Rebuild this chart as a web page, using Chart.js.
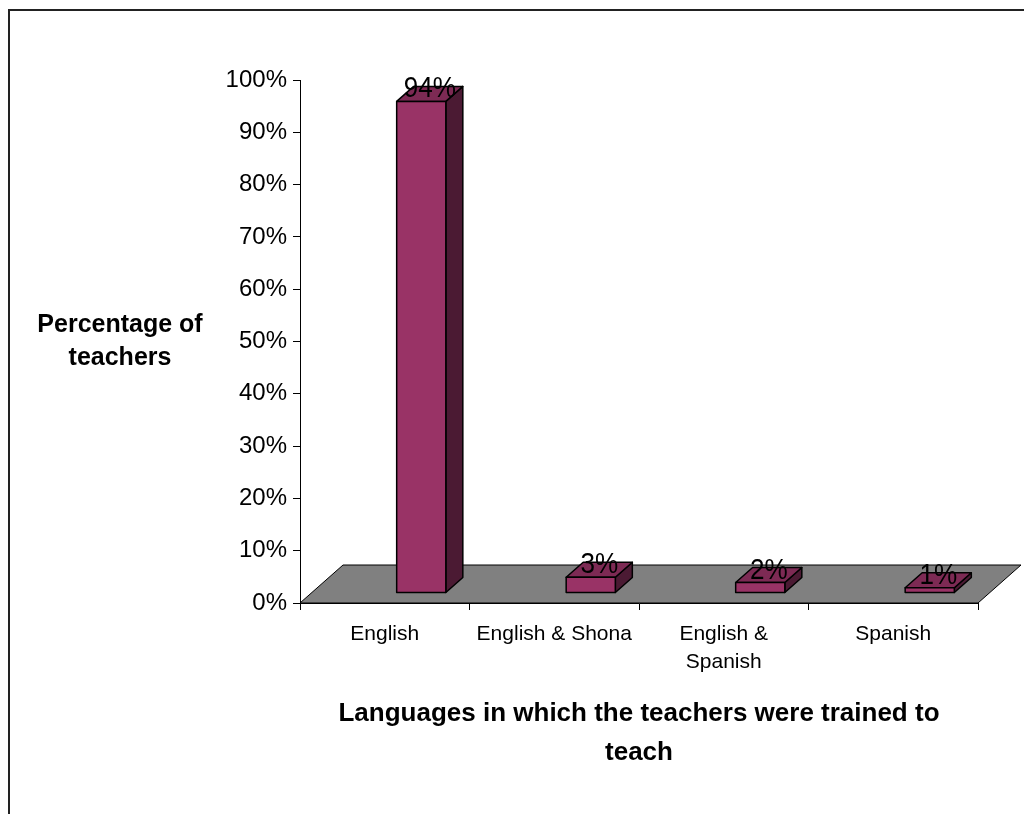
<!DOCTYPE html>
<html>
<head>
<meta charset="utf-8">
<title>Languages of teacher training</title>
<script src="https://cdn.jsdelivr.net/npm/chart.js@4.4.1/dist/chart.umd.min.js"></script>
<style>
  html, body { margin: 0; padding: 0; background: #fff; overflow: hidden; }
  #chartBox { width: 1024px; height: 814px; }
</style>
</head>
<body>
<div id="chartBox"><canvas id="langChart" width="1024" height="814"></canvas></div>
<script>
const categories = ["English", "English & Shona", ["English &", "Spanish"], "Spanish"];
const percentTeachers = [94, 3, 2, 1];
const yTickLabels = ["0%", "10%", "20%", "30%", "40%", "50%", "60%", "70%", "80%", "90%", "100%"];
const yTitle = ["Percentage of", "teachers"];
const xTitle = ["Languages in which the teachers were trained to", "teach"];

const FONT = '"Liberation Sans", Arial, sans-serif';

// fake 3D: floor depth, bar depth and where the bar front plane sits
const floorDepth = { x: 43, y: -38 };
const barDepth = { x: 17, y: -15 };
const frontShift = { x: 36.5, y: -10 };

const colors = {
    front: "#993366",
    top: "#7d2a54",
    side: "#4b1a33",
    floor: "#808080"
};

function poly(ctx, pts, fill) {
    ctx.beginPath();
    ctx.moveTo(pts[0][0], pts[0][1]);
    for (let i = 1; i < pts.length; i++) ctx.lineTo(pts[i][0], pts[i][1]);
    ctx.closePath();
    ctx.fillStyle = fill;
    ctx.fill();
    ctx.stroke();
}

const frame3d = {
    id: "frame3d",
    beforeDraw(chart) {
        const ctx = chart.ctx;
        ctx.save();
        ctx.strokeStyle = "#222";
        ctx.lineWidth = 2;
        ctx.strokeRect(9, 10, 1100, 900);
        ctx.restore();
    },
    beforeDatasetDraw() {
        return false; // bars are drawn by hand below
    },
    afterDatasetsDraw(chart) {
        const ctx = chart.ctx;
        const area = chart.chartArea;
        const y0 = chart.scales.y.getPixelForValue(0);
        ctx.save();
        ctx.strokeStyle = "#000";
        ctx.lineWidth = 1;
        ctx.lineJoin = "round";

        // grey floor
        poly(ctx, [
            [area.left, y0],
            [area.right, y0],
            [area.right + floorDepth.x, y0 + floorDepth.y],
            [area.left + floorDepth.x, y0 + floorDepth.y]
        ], colors.floor);

        const meta = chart.getDatasetMeta(0);
        ctx.lineWidth = 1.5;
        meta.data.forEach((bar, i) => {
            const p = bar.getProps(["x", "y", "base", "width"], true);
            const cx = p.x + frontShift.x;
            const l = cx - p.width / 2;
            const r = cx + p.width / 2;
            const t = p.y + frontShift.y;
            const b = p.base + frontShift.y;
            const dx = barDepth.x, dy = barDepth.y;

            poly(ctx, [[r, t], [r + dx, t + dy], [r + dx, b + dy], [r, b]], colors.side);
            poly(ctx, [[l, t], [r, t], [r + dx, t + dy], [l + dx, t + dy]], colors.top);
            poly(ctx, [[l, t], [r, t], [r, b], [l, b]], colors.front);

            // value label, slightly condensed
            ctx.save();
            ctx.translate(cx + dx / 2, t - 4);
            ctx.scale(0.87, 1);
            ctx.fillStyle = "#000";
            ctx.font = "30px " + FONT;
            ctx.textAlign = "center";
            ctx.textBaseline = "alphabetic";
            ctx.fillText(percentTeachers[i] + "%", 0, 0);
            ctx.restore();
        });
        ctx.restore();
    },
    afterDraw(chart) {
        // horizontal title left of the value axis
        const ctx = chart.ctx;
        ctx.save();
        ctx.fillStyle = "#000";
        ctx.font = "bold 25px " + FONT;
        ctx.textAlign = "center";
        ctx.textBaseline = "alphabetic";
        ctx.fillText(yTitle[0], 120, 332);
        ctx.fillText(yTitle[1], 120, 365);
        ctx.restore();
    }
};

Chart.defaults.color = "#000";
Chart.defaults.font.family = FONT;

const ctx = document.getElementById("langChart").getContext("2d");
const langChart = new Chart(ctx, {
    type: "bar",
    data: {
        labels: categories,
        datasets: [{
            label: "Teachers",
            data: percentTeachers,
            backgroundColor: colors.front,
            categoryPercentage: 1,
            barPercentage: 0.29
        }]
    },
    options: {
        responsive: false,
        animation: false,
        devicePixelRatio: 1,
        layout: {
            padding: { left: 0, right: 46, top: 80, bottom: 0 }
        },
        plugins: {
            legend: { display: false },
            tooltip: { enabled: false }
        },
        scales: {
            y: {
                min: 0,
                max: 100,
                afterFit(scale) { scale.width = 300; },
                ticks: {
                    stepSize: 10,
                    padding: 6,
                    font: { size: 24 },
                    callback: (v, i) => yTickLabels[i]
                },
                grid: {
                    drawOnChartArea: false,
                    tickLength: 7,
                    color: "#000"
                },
                border: { display: true, color: "#000", width: 1 }
            },
            x: {
                offset: true,
                afterFit(scale) { scale.height = 211; },
                ticks: {
                    padding: 10,
                    maxRotation: 0,
                    autoSkip: false,
                    font: { size: 21, lineHeight: 1.35 }
                },
                grid: {
                    offset: true,
                    drawOnChartArea: false,
                    tickLength: 7,
                    color: "#000"
                },
                border: { display: true, color: "#000", width: 1 },
                title: {
                    display: true,
                    text: xTitle,
                    font: { size: 26, weight: "bold", lineHeight: 1.5 },
                    padding: { top: 0, bottom: 42 }
                }
            }
        }
    },
    plugins: [frame3d]
});
</script>
</body>
</html>
